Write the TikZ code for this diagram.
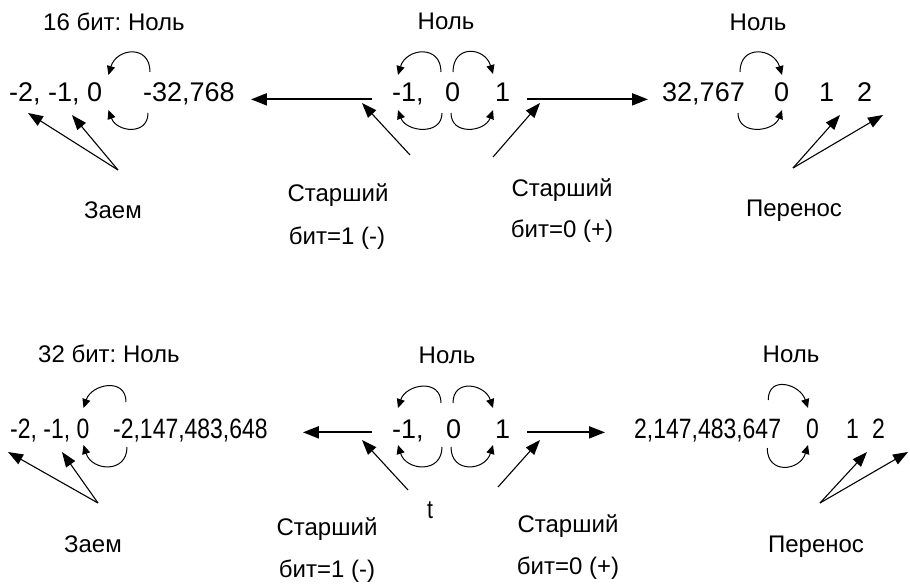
\documentclass[tikz,border=0pt]{standalone}
\usepackage{fontspec}
\setmainfont{Liberation Sans}
\newfontfamily\narrowfont[FakeStretch=0.82]{Liberation Sans}
\usepackage{tikz}
\usetikzlibrary{arrows.meta}
\frenchspacing

\begin{document}
\begin{tikzpicture}[
    x=1pt,
    y=-1pt,
    num/.style={
        font=\fontsize{27}{32}\selectfont,
        inner sep=0pt,
        anchor=base west
    },
    nnum/.style={
        font=\narrowfont\fontsize{28}{33}\selectfont,
        inner sep=0pt,
        anchor=base west
    },
    lbl/.style={
        font=\fontsize{24}{28}\selectfont,
        inner sep=0pt,
        anchor=base
    },
    arr/.style={-{Triangle[length=16pt,width=12pt]}, line width=2pt},
    ptr/.style={-{Triangle[length=15pt,width=11pt]}, line width=1.1pt},
    turn/.style={-{Triangle[length=9pt,width=8pt]}, line width=1pt}
]
\useasboundingbox (0,0) rectangle (910,585);

% first row: 16 bit
\node[lbl,anchor=base west] (head1) at (43,31) {16 бит: Ноль};
\node[lbl] (zc1) at (446,30) {Ноль};
\node[lbl] (zr1) at (758,31) {Ноль};

\node[num] (lo1) at (9,102) {-2, -1, 0};
\node[num] (mn1) at (143,102) {-32,768};
\node[num] (c1) at (392,102) {-1,};
\node[num] (z1) at (445,102) {0};
\node[num] (p1) at (495,102) {1};
\node[num] (mx1) at (662,102) {32,767};
\node[num] (z1r) at (774,102) {0};
\node[num] (o1) at (819,102) {1};
\node[num] (t1) at (857,102) {2};

\node[lbl] (ze1) at (113,219) {Заем};
\node[lbl] (sl1a) at (338,202) {Старший};
\node[lbl] (sl1b) at (337,245) {бит=1 (-)};
\node[lbl] (sr1a) at (562,197) {Старший};
\node[lbl] (sr1b) at (562,238) {бит=0 (+)};
\node[lbl] (pe1) at (794,217) {Перенос};

\draw[arr] ([xshift=-20pt]c1.mid west) -- ([xshift=16pt]mn1.mid east);
\draw[arr] ([xshift=17pt]p1.mid east) -- ([xshift=-14pt]mx1.mid west);

\draw[turn] ([shift={(7,-30)}]mn1.base west) .. controls +(0,-28) and +(8,-27) .. ([shift={(6,-27)}]lo1.base east);
\draw[turn] ([shift={(5,11)}]mn1.base west) .. controls +(0,23) and +(8,22) .. ([shift={(6,8)}]lo1.base east);
\draw[turn] ([shift={(-4,-30)}]z1.base west) .. controls +(0,-28) and +(8,-27) .. ([shift={(6,-27)}]c1.base west);
\draw[turn] ([shift={(8,-30)}]z1.base west) .. controls +(0,-28) and +(-8,-27) .. ([shift={(-2,-28)}]p1.base west);
\draw[turn] ([shift={(-3,11)}]z1.base west) .. controls +(0,23) and +(8,22) .. ([shift={(6,8)}]c1.base west);
\draw[turn] ([shift={(6,11)}]z1.base west) .. controls +(0,23) and +(-8,22) .. ([shift={(-2,8)}]p1.base west);
\draw[turn] ([shift={(-5,-30)}]mx1.base east) .. controls +(0,-28) and +(-8,-27) .. ([shift={(8,-27)}]z1r.base west);
\draw[turn] ([shift={(-7,11)}]mx1.base east) .. controls +(0,23) and +(-8,22) .. ([shift={(8,8)}]z1r.base west);

\coordinate (zb1) at (118,170);
\coordinate (sl1) at (410,155);
\coordinate (sr1) at (493,157);
\coordinate (pb1) at (793,168);
\draw[ptr] (zb1) -- ([shift={(19,11)}]lo1.base west);
\draw[ptr] (zb1) -- ([shift={(63,13)}]lo1.base west);
\draw[ptr] (sl1) -- ([shift={(-30,1)}]c1.base west);
\draw[ptr] (sr1) -- ([shift={(45,1)}]p1.base west);
\draw[ptr] (pb1) -- ([shift={(21,13)}]o1.base west);
\draw[ptr] (pb1) -- ([shift={(26,13)}]t1.base west);

% second row: 32 bit
\node[lbl,anchor=base west] (head2) at (38,362) {32 бит: Ноль};
\node[lbl] (zc2) at (447,363) {Ноль};
\node[lbl] (zr2) at (791,362) {Ноль};

\node[nnum] (lo2) at (10,438) {-2, -1, 0};
\node[nnum] (mn2) at (113,438) {-2,147,483,648};
\node[num] (c2) at (392,438) {-1,};
\node[num] (z2) at (446,438) {0};
\node[num] (p2) at (495,438) {1};
\node[nnum] (mx2) at (634,438) {2,147,483,647};
\node[nnum] (z2r) at (806,438) {0};
\node[nnum] (o2) at (846,438) {1};
\node[nnum] (t2) at (872,438) {2};

\node[lbl] (ze2) at (93,552) {Заем};
\node[lbl] (sl2a) at (327,535) {Старший};
\node[lbl] (sl2b) at (327,577) {бит=1 (-)};
\node[lbl] (sr2a) at (568,532) {Старший};
\node[lbl] (sr2b) at (568,574) {бит=0 (+)};
\node[lbl] (pe2) at (816,552) {Перенос};
\node[font=\narrowfont\fontsize{26}{30}\selectfont,inner sep=0pt,anchor=base] (tt) at (430,518) {t};

\draw[arr] ([shift={(-20,-3)}]c2.mid west) -- ([shift={(35,-3)}]mn2.mid east);
\draw[arr] ([shift={(17,-3)}]p2.mid east) -- ([shift={(-29,-3)}]mx2.mid west);

\draw[turn] ([shift={(13,-36)}]mn2.base west) .. controls +(0,-25) and +(8,-24) .. ([shift={(-6,-30)}]lo2.base east);
\draw[turn] ([shift={(14,9)}]mn2.base west) .. controls +(0,27) and +(8,26) .. ([shift={(-6,7)}]lo2.base east);
\draw[turn] ([shift={(-5,-35)}]z2.base west) .. controls +(0,-25) and +(8,-24) .. ([shift={(6,-30)}]c2.base west);
\draw[turn] ([shift={(7,-35)}]z2.base west) .. controls +(0,-25) and +(-8,-24) .. ([shift={(-2,-30)}]p2.base west);
\draw[turn] ([shift={(-4,9)}]z2.base west) .. controls +(0,27) and +(8,26) .. ([shift={(6,7)}]c2.base west);
\draw[turn] ([shift={(5,9)}]z2.base west) .. controls +(0,27) and +(-8,26) .. ([shift={(-2,7)}]p2.base west);
\draw[turn] ([shift={(-13,-38)}]mx2.base east) .. controls +(0,-25) and +(-8,-24) .. ([shift={(2,-30)}]z2r.base west);
\draw[turn] ([shift={(-14,10)}]mx2.base east) .. controls +(0,27) and +(-8,26) .. ([shift={(2,7)}]z2r.base west);

\coordinate (zb2) at (98,503);
\coordinate (sl2) at (408,490);
\coordinate (sr2) at (498,487);
\coordinate (pb2) at (820,503);
\draw[ptr] (zb2) -- ([shift={(-2,14)}]lo2.base west);
\draw[ptr] (zb2) -- ([shift={(52,14)}]lo2.base west);
\draw[ptr] (sl2) -- ([shift={(-30,2)}]c2.base west);
\draw[ptr] (sr2) -- ([shift={(45,2)}]p2.base west);
\draw[ptr] (pb2) -- ([shift={(21,14)}]o2.base west);
\draw[ptr] (pb2) -- ([shift={(36,14)}]t2.base west);

\end{tikzpicture}
\end{document}
